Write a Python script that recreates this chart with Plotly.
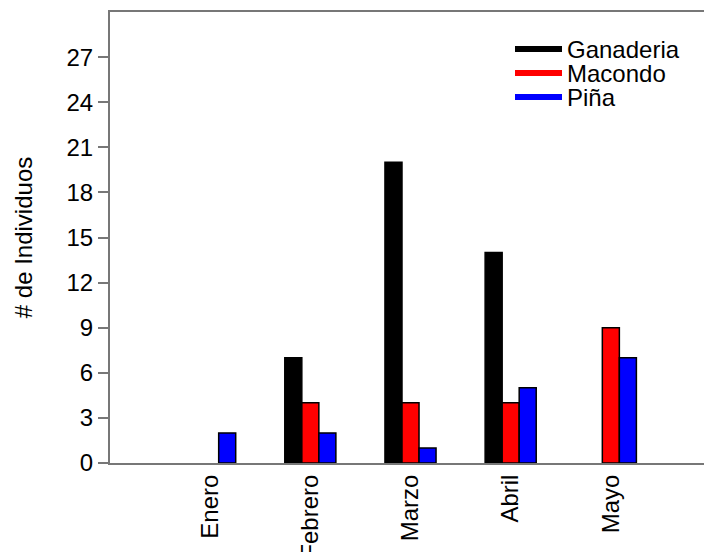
import plotly.graph_objects as go

categories = ["Enero", "Febrero", "Marzo", "Abril", "Mayo"]
series_names = ["Ganaderia", "Macondo", "Piña"]
ganaderia = [0, 7, 20, 14, 0]
macondo = [0, 4, 4, 4, 9]
pina = [2, 2, 1, 5, 7]
y_ticks = [0, 3, 6, 9, 12, 15, 18, 21, 24, 27]

colors = ["#000000", "#ff0000", "#0000ff"]
values = [ganaderia, macondo, pina]

W, H = 704, 552
L, R, T, B = 110, 0, 12, 552 - 463
FONT = "Liberation Sans, Arial, sans-serif"
FS = 24

fig = go.Figure()
for name, vals, col in zip(series_names, values, colors):
    fig.add_trace(go.Bar(
        x=categories, y=[v if v else None for v in vals], name=name,
        marker=dict(color=col, line=dict(color="#000000", width=1.5)),
        showlegend=False,
    ))

pw = W - L - R
ph = H - T - B
def px_x(x):  # window pixel -> paper
    return (x - L) / pw
def px_y(y):
    return (H - B - y) / ph

shapes = []
annotations = []
leg_y = [49, 73, 97]
for name, col, yy in zip(series_names, colors, leg_y):
    shapes.append(dict(type="line", xref="paper", yref="paper",
                       x0=px_x(515), x1=px_x(562), y0=px_y(yy), y1=px_y(yy),
                       line=dict(color=col, width=6)))
    annotations.append(dict(xref="paper", yref="paper", x=px_x(565), y=px_y(yy),
                            text=name, showarrow=False, xanchor="left", yanchor="middle",
                            font=dict(family=FONT, size=FS, color="#000000")))

axis_col = "#777777"
fig.update_layout(
    width=W, height=H,
    margin=dict(l=L, r=R, t=T, b=B, pad=0, autoexpand=False),
    paper_bgcolor="white", plot_bgcolor="white",
    barmode="group", bargap=0.49, bargroupgap=0,
    font=dict(family=FONT, size=FS, color="#000000"),
    shapes=shapes, annotations=annotations,
    xaxis=dict(range=[-1.0, 4.93], showline=True, mirror=True, linecolor=axis_col,
               linewidth=2, ticks="", tickangle=-90, showgrid=False, zeroline=False,
               automargin=False,
               tickfont=dict(family=FONT, size=FS, color="#000000")),
    yaxis=dict(range=[0, 30], tickvals=y_ticks, showline=True, linecolor=axis_col,
               linewidth=2, ticks="outside", ticklen=10, tickwidth=2, tickcolor=axis_col,
               showgrid=False, zeroline=False, automargin=False,
               tickfont=dict(family=FONT, size=FS, color="#000000"),
               title=dict(text="# de Individuos", standoff=27,
                          font=dict(family=FONT, size=FS, color="#000000"))),
)

fig.write_html(
    "out.html",
    config={"displayModeBar": False},
    post_script="document.body.style.margin='0';document.body.style.overflow='hidden';",
)
